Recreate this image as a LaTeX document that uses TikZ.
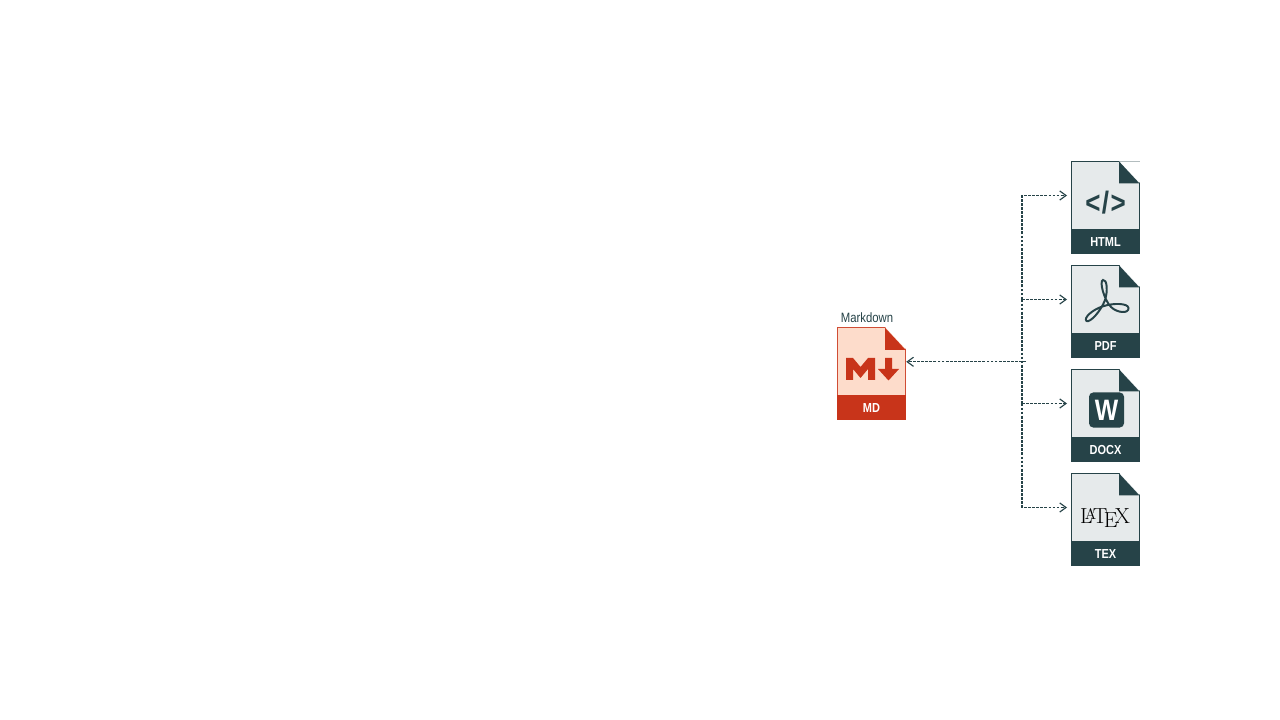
\documentclass[tikz,border=0pt]{standalone}
\usepackage{fontspec}
\usepackage{xcolor}
\usetikzlibrary{arrows.meta, positioning}
\setsansfont[FakeStretch=0.84]{Liberation Sans}
\definecolor{doc-dark}{HTML}{264348}
\definecolor{doc-light}{HTML}{E6EAEB}
\definecolor{md-red}{HTML}{C8341A}
\definecolor{md-light}{HTML}{FDDCCB}

\begin{document}
\begin{tikzpicture}[x=0.025cm, y=-0.025cm,
        every node/.style={font=\sffamily, inner sep=0pt, outer sep=0pt},
        docbody/.style={draw=doc-dark, fill=doc-light, line width=0.8pt,
            minimum width=1.7cm, minimum height=1.7cm},
        docband/.style={draw=doc-dark, fill=doc-dark, text=white, line width=0.8pt,
            minimum width=1.7cm, minimum height=0.6cm,
            font=\sffamily\bfseries\fontsize{9.3}{10}\selectfont},
        mdbody/.style={docbody, draw=md-red!85!md-light, fill=md-light},
        mdband/.style={docband, draw=md-red, fill=md-red},
        flow/.style={doc-dark, line width=0.8pt, dash pattern=on 2pt off 0.9pt},
        flowto/.style={flow, -{Straight Barb[length=4.5pt, width=6.5pt]}, shorten >=3.2pt}]
      \useasboundingbox (0,0) rectangle (1280,720);

      % source file
      \node[mdbody] (MD) at (871.5,361.8) {};
      \node[mdband, below=0pt of MD] (MDBAND) {MD};
      \node[text=doc-dark, font=\sffamily\fontsize{9.6}{11}\selectfont] (MDNAME) at (867,318) {Markdown};
      \fill[white] ([shift={(-20.5,-1)}]MD.north east) -- ([shift={(1,-1)}]MD.north east) -- ([shift={(1,22)}]MD.north east) -- cycle;
      \fill[md-red] ([xshift=-0.51cm]MD.north east) -- ([yshift=-0.55cm]MD.north east) -- ([xshift=-0.51cm, yshift=-0.55cm]MD.north east) -- cycle;
      \fill[md-red] (846,380) -- (846,358) -- (853,358) -- (860.5,367) -- (868,358) -- (875,358)
            -- (875,380) -- (868,380) -- (868,369) -- (860.5,378) -- (853,369) -- (853,380) -- cycle;
      \fill[md-red] (885,358) -- (892,358) -- (892,369) -- (899,369) -- (888.5,380.5) -- (878,369) -- (885,369) -- cycle;

      % target files
      \node[docbody] (HTML) at (1105.5,195.5) {};
      \node[docband, below=0pt of HTML] (HTMLBAND) {HTML};
      \fill[white] ([shift={(-20.5,0)}]HTML.north east) -- ([shift={(1,0)}]HTML.north east) -- ([shift={(1,22)}]HTML.north east) -- cycle;
      \fill[doc-dark] ([xshift=-0.51cm]HTML.north east) -- ([yshift=-0.55cm]HTML.north east) -- ([xshift=-0.51cm, yshift=-0.55cm]HTML.north east) -- cycle;
      \node[text=doc-dark, font=\sffamily\bfseries\fontsize{22}{23}\selectfont] (CODE) at (1105.5,203) {<\kern1pt/\kern1pt>};

      \node[docbody] (PDF) at (1105.5,299.5) {};
      \node[docband, below=0pt of PDF] (PDFBAND) {PDF};
      \fill[white] ([shift={(-20.5,-1)}]PDF.north east) -- ([shift={(1,-1)}]PDF.north east) -- ([shift={(1,22)}]PDF.north east) -- cycle;
      \fill[doc-dark] ([xshift=-0.51cm]PDF.north east) -- ([yshift=-0.55cm]PDF.north east) -- ([xshift=-0.51cm, yshift=-0.55cm]PDF.north east) -- cycle;
      \draw[doc-dark, line width=1.4pt] (1103,280) .. controls (1107,279) and (1108,291) .. (1105,300)
            .. controls (1101,311) and (1090,323) .. (1086.5,321)
            .. controls (1083,318) and (1093,309) .. (1104,306)
            .. controls (1113,303) and (1128,303) .. (1128.5,308)
            .. controls (1129,314) and (1117,313) .. (1111,307)
            .. controls (1104,300) and (1099,281) .. (1103,280) -- cycle;

      \node[docbody] (DOCX) at (1105.5,403.5) {};
      \node[docband, below=0pt of DOCX] (DOCXBAND) {DOCX};
      \fill[white] ([shift={(-20.5,-1)}]DOCX.north east) -- ([shift={(1,-1)}]DOCX.north east) -- ([shift={(1,22)}]DOCX.north east) -- cycle;
      \fill[doc-dark] ([xshift=-0.51cm]DOCX.north east) -- ([yshift=-0.55cm]DOCX.north east) -- ([xshift=-0.51cm, yshift=-0.55cm]DOCX.north east) -- cycle;
      \node[fill=doc-dark, rounded corners=3pt, text=white, minimum width=0.875cm, minimum height=0.875cm,
            font=\sffamily\bfseries\fontsize{21}{22}\selectfont] (WORD) at (1106.5,410) {W};

      \node[docbody] (TEX) at (1105.5,507.5) {};
      \node[docband, below=0pt of TEX] (TEXBAND) {TEX};
      \fill[white] ([shift={(-20.5,-1)}]TEX.north east) -- ([shift={(1,-1)}]TEX.north east) -- ([shift={(1,22)}]TEX.north east) -- cycle;
      \fill[doc-dark] ([xshift=-0.51cm]TEX.north east) -- ([yshift=-0.55cm]TEX.north east) -- ([xshift=-0.51cm, yshift=-0.55cm]TEX.north east) -- cycle;
      \node[text=black, font=\rmfamily\fontsize{15.5}{16}\selectfont] (LOGO) at (1105,518) {\LaTeX};

      % connectors
      \coordinate (BUS) at (1022,361.8);
      \coordinate (BUSEND) at (1026,361.8);
      \draw[flowto, shorten >=0.5pt] (BUSEND) -- (MD.east);
      \draw[flow] (BUS |- PDF.west) -- (BUS |- DOCX.west);
      \draw[flowto] (BUS |- PDF.west) |- (HTML.west);
      \draw[flowto] (BUS |- PDF.west) -- (PDF.west);
      \draw[flowto] (BUS |- DOCX.west) -- (DOCX.west);
      \draw[flowto] (BUS |- DOCX.west) |- (TEX.west);
    \end{tikzpicture}
\end{document}
